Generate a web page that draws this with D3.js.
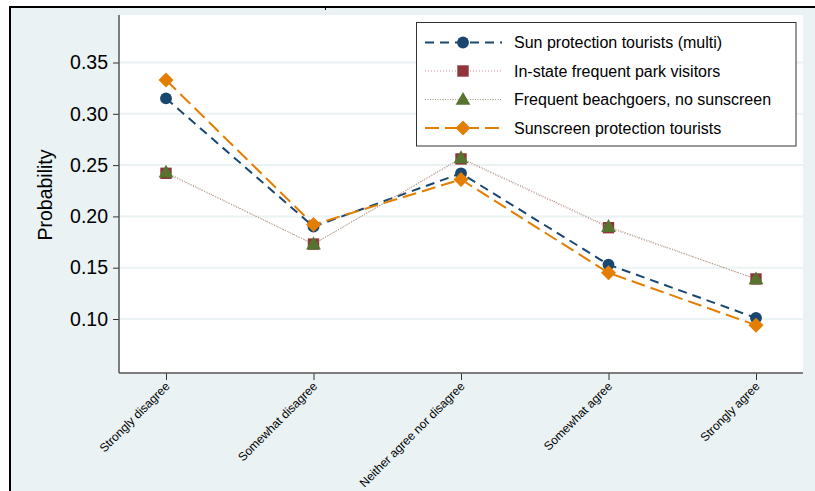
<!DOCTYPE html>
<html>
<head>
<meta charset="utf-8">
<script src="https://cdn.jsdelivr.net/npm/d3@7"></script>
<style>
  html, body { margin: 0; padding: 0; background: #ffffff; }
  svg { display: block; font-family: "Liberation Sans", Arial, sans-serif; }
</style>
</head>
<body>
<svg id="chart" width="815" height="491"></svg>
<script>
// Response categories along the x axis
const categories = ["Strongly disagree", "Somewhat disagree", "Neither agree nor disagree", "Somewhat agree", "Strongly agree"];

// Predicted probabilities per group
const sunProtectionMulti = [0.315, 0.190, 0.242, 0.153, 0.101];
const inStateParkVisitors = [0.242, 0.173, 0.256, 0.189, 0.139];
const beachgoersNoSunscreen = [0.243, 0.173, 0.257, 0.190, 0.139];
const sunscreenTourists = [0.333, 0.192, 0.236, 0.145, 0.094];

const seriesNames = ["Sun protection tourists (multi)", "In-state frequent park visitors", "Frequent beachgoers, no sunscreen", "Sunscreen protection tourists"];
const yTicks = [0.10, 0.15, 0.20, 0.25, 0.30, 0.35];

const series = [
  { name: seriesNames[0], values: sunProtectionMulti, color: "#1a476f", lineColor: "#1a476f", dash: "9,6", width: 2, marker: "circle" },
  { name: seriesNames[1], values: inStateParkVisitors, color: "#90353b", lineColor: "#d48a92", dash: "1,2", width: 1, marker: "square" },
  { name: seriesNames[2], values: beachgoersNoSunscreen, color: "#55752f", lineColor: "#9a9a78", dash: "1,1.5", width: 1, marker: "triangle" },
  { name: seriesNames[3], values: sunscreenTourists, color: "#e37e00", lineColor: "#e37e00", dash: "14,6", width: 2, marker: "diamond" }
];

const svg = d3.select("#chart");
const W = 815, H = 491;

// Outer graph region
svg.append("rect").attr("x", 10).attr("y", 7).attr("width", W - 10).attr("height", H - 7).attr("fill", "#eaf2f3");
svg.append("line").attr("x1", 9).attr("x2", W).attr("y1", 7).attr("y2", 7).attr("stroke", "#000").attr("stroke-width", 2);
svg.append("line").attr("x1", 10).attr("x2", 10).attr("y1", 6).attr("y2", H).attr("stroke", "#000").attr("stroke-width", 2);
svg.append("line").attr("x1", 325.5).attr("x2", 325.5).attr("y1", 7).attr("y2", 10).attr("stroke", "#000").attr("stroke-width", 1);

// Plot region
const plot = { left: 119, right: 803, top: 15, bottom: 373 };
svg.append("rect").attr("x", plot.left).attr("y", plot.top)
  .attr("width", plot.right - plot.left).attr("height", plot.bottom - plot.top).attr("fill", "#ffffff");

const x = d3.scalePoint().domain(categories).range([166, 756]);
const y = d3.scaleLinear().domain([0.10, 0.35]).range([319, 62.5]);

// Horizontal grid lines
svg.append("g").selectAll("line").data(yTicks).join("line")
  .attr("x1", plot.left).attr("x2", plot.right)
  .attr("y1", d => y(d)).attr("y2", d => y(d))
  .attr("stroke", "#eaf2f3").attr("stroke-width", 2);

// Y axis
const yAxis = svg.append("g").attr("transform", `translate(${plot.left},0)`)
  .call(d3.axisLeft(y).tickValues(yTicks).tickFormat(d3.format(".2f")).tickSize(6).tickPadding(5));
yAxis.select(".domain").remove();
yAxis.selectAll(".tick line").attr("stroke", "#333");
yAxis.selectAll(".tick text").attr("font-size", 19.5).attr("fill", "#000")
  .attr("font-family", "Liberation Sans, Arial, sans-serif");
svg.append("line").attr("x1", plot.left).attr("x2", plot.left).attr("y1", plot.top).attr("y2", plot.bottom)
  .attr("stroke", "#555").attr("stroke-width", 1.5);

// X axis
const xAxis = svg.append("g").attr("transform", `translate(0,${plot.bottom})`)
  .call(d3.axisBottom(x).tickSize(7).tickPadding(4));
xAxis.select(".domain").remove();
xAxis.selectAll(".tick line").attr("stroke", "#333");
xAxis.selectAll(".tick text")
  .attr("font-size", 12).attr("fill", "#000")
  .attr("font-family", "Liberation Sans, Arial, sans-serif")
  .attr("text-anchor", "end")
  .attr("dy", "0.35em")
  .attr("transform", "translate(1,11) rotate(-45)")
  .attr("x", 0).attr("y", 0);
svg.append("line").attr("x1", plot.left).attr("x2", plot.right).attr("y1", plot.bottom).attr("y2", plot.bottom)
  .attr("stroke", "#555").attr("stroke-width", 1.5);

// Y axis title
svg.append("text").attr("transform", "translate(52,195) rotate(-90)")
  .attr("text-anchor", "middle").attr("font-size", 19.5).attr("fill", "#000").text("Probability");

// Marker shapes
const symbolFor = {
  circle: d3.symbol().type(d3.symbolCircle).size(110),
  square: d3.symbol().type(d3.symbolSquare).size(130),
  triangle: d3.symbol().type(d3.symbolTriangle).size(95),
  diamond: d3.symbol().type(d3.symbolSquare).size(112)
};
function drawMarker(g, s, cx, cy) {
  const p = g.append("path").attr("d", symbolFor[s.marker]()).attr("fill", s.color);
  if (s.marker === "diamond") p.attr("transform", `translate(${cx},${cy}) rotate(45)`);
  else if (s.marker === "triangle") p.attr("transform", `translate(${cx},${cy + 1})`);
  else p.attr("transform", `translate(${cx},${cy})`);
}

const line = d3.line().x((d, i) => x(categories[i])).y(d => y(d));

// Lines and markers
series.forEach(s => {
  const g = svg.append("g");
  g.append("path").attr("d", line(s.values)).attr("fill", "none")
    .attr("stroke", s.lineColor).attr("stroke-width", s.width).attr("stroke-dasharray", s.dash);
  s.values.forEach((v, i) => drawMarker(g, s, x(categories[i]), y(v)));
});

// Legend
const lg = svg.append("g");
lg.append("rect").attr("x", 416.5).attr("y", 22.5).attr("width", 379.5).attr("height", 123.5)
  .attr("fill", "#ffffff").attr("stroke", "#333").attr("stroke-width", 1);
series.forEach((s, i) => {
  const ry = 42.5 + i * 28.5;
  lg.append("line").attr("x1", 425).attr("x2", 502).attr("y1", ry).attr("y2", ry)
    .attr("stroke", s.lineColor).attr("stroke-width", s.width).attr("stroke-dasharray", s.dash);
  drawMarker(lg, s, 463, ry);
  lg.append("text").attr("x", 514).attr("y", ry).attr("dy", "0.35em")
    .attr("font-size", 16).attr("fill", "#000").text(s.name);
});
</script>
</body>
</html>
